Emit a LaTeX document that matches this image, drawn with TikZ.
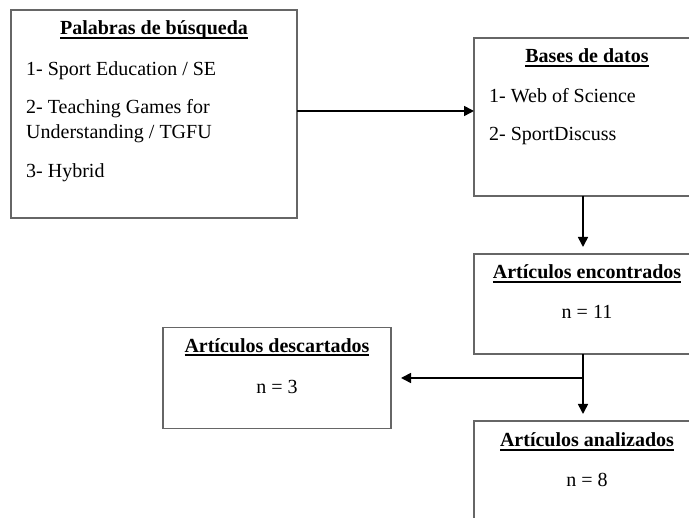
\documentclass[tikz,border=0pt]{standalone}
\usepackage{fontspec}
\setmainfont{Liberation Serif}
\usetikzlibrary{arrows.meta,positioning}
\newcommand{\hd}[1]{\setbox0\hbox{\bfseries #1}\rlap{\vrule height -2pt depth 4pt width \wd0}\box0}
\tikzset{
  stage/.style={draw=black!60, line width=1.5pt, outer sep=0pt, inner sep=0pt},
  txt/.style={inner sep=0pt, align=left},
  arr/.style={-{Triangle[length=10pt,width=10pt]}, line width=1.6pt},
}
\begin{document}
\begin{tikzpicture}[x=1pt, y=-1pt, font=\fontsize{20}{24}\selectfont]
  \useasboundingbox (0,0) rectangle (689,518);
  \clip (0,0) rectangle (689,518);
  \node[stage, minimum width=286pt, minimum height=208pt, anchor=north west] (pal) at (11,10) {};
  \node[stage, minimum width=226pt, minimum height=158pt, right=177pt of pal, yshift=-3pt] (bas) {};
  \node[stage, minimum width=226pt, minimum height=100pt, below=58pt of bas] (enc) {};
  \node[stage, minimum width=226pt, minimum height=110pt, below=67pt of enc] (ana) {};
  \node[stage, minimum width=228pt, minimum height=101pt, left=83pt of enc.south west, yshift=-24pt] (des) {};
  % base of a multi-line node sits on its last line
  \node[txt, anchor=base] (palT) at ([yshift=-25pt]pal.north) {\hd{Palabras de búsqueda}};
  \node[txt, anchor=base west] (palL) at ([xshift=15pt,yshift=-168pt]pal.north west)
    {1- Sport Education / SE\\[14pt]2- Teaching Games for\\[1pt]Understanding / TGFU\\[15pt]3- Hybrid};
  \node[txt, anchor=base] (basT) at ([yshift=-25pt]bas.north) {\hd{Bases de datos}};
  \node[txt, anchor=base west] (basL) at ([xshift=15pt,yshift=-103pt]bas.north west)
    {1- Web of Science\\[14pt]2- SportDiscuss};
  \node[txt, align=center, anchor=base] (encT) at ([yshift=-65pt]enc.north) {\hd{Artículos encontrados}\\[16pt]n = 11};
  \node[txt, align=center, anchor=base] (desT) at ([yshift=-66pt]des.north) {\hd{Artículos descartados}\\[17pt]n = 3};
  \node[txt, align=center, anchor=base] (anaT) at ([yshift=-66pt]ana.north) {\hd{Artículos analizados}\\[16pt]n = 8};
  \path (pal.east) ++(0,-3) coordinate (link);
  \path (des.east -| enc.south) ++(-4,0) coordinate (split);
  \draw[arr] (link) -- (link -| bas.west);
  \draw[arr, shorten >=7pt] ([xshift=-4pt]bas.south) -- ([xshift=-4pt]enc.north);
  \draw[arr, shorten >=7pt] ([xshift=-4pt]enc.south) -- ([xshift=-4pt]ana.north);
  \draw[arr, shorten >=10pt] (split) -- (des.east);
\end{tikzpicture}
\end{document}
